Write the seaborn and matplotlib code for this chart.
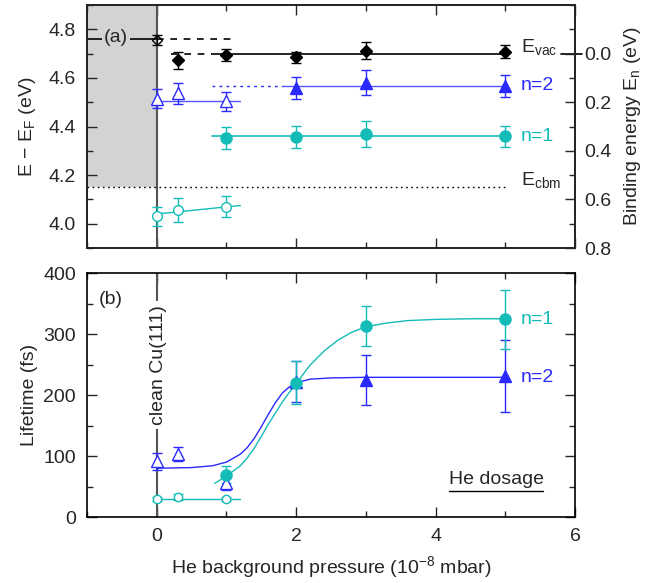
import matplotlib
matplotlib.use("Agg")
import matplotlib.pyplot as plt
import seaborn as sns
import pandas as pd
from matplotlib.ticker import MultipleLocator

sns.set_theme(style="ticks")
plt.rcParams['font.family'] = ['Liberation Sans', 'DejaVu Sans']
plt.rcParams['mathtext.fontset'] = 'custom'
plt.rcParams['mathtext.rm'] = 'Liberation Sans'

BLUE = '#2a2aff'
CYAN = '#14bcb8'
GRAY = '#d3d3d3'

# ---- panel (a): energies (eV) ----
vac_clean_x = [0]
vac_clean_y = [4.755]
vac_clean_err = [0.02]
vac_x = [0.3, 1, 2, 3, 5]
vac_y = [4.673, 4.694, 4.685, 4.711, 4.708]
vac_err = [0.035, 0.025, 0.022, 0.035, 0.028]

n2_clean_x = [0, 0.3, 1]
n2_clean_y = [4.515, 4.536, 4.503]
n2_clean_err = [0.04, 0.045, 0.04]
n2_x = [2, 3, 5]
n2_y = [4.56, 4.58, 4.565]
n2_err = [0.045, 0.052, 0.045]

n1_clean_x = [0, 0.3, 1]
n1_clean_y = [4.03, 4.056, 4.07]
n1_clean_err = [0.04, 0.048, 0.042]
n1_x = [1, 2, 3, 5]
n1_y = [4.352, 4.357, 4.37, 4.36]
n1_err = [0.045, 0.045, 0.053, 0.043]

# reference levels
vac_level = 4.70
vac_clean_level = 4.76
n2_level = 4.567
n2_clean_level = 4.505
n1_level = 4.36
cbm_level = 4.15
n1_clean_fit_x = [0, 1.2]
n1_clean_fit_y = [4.04, 4.075]

# ---- panel (b): lifetimes (fs) ----
tau1_x = [1, 2, 3, 5]
tau1_y = [69, 220, 313, 324]
tau1_err = [14, 35, 33, 48]
tau2_x = [2, 3, 5]
tau2_y = [222, 225, 231]
tau2_err = [34, 41, 59]
tau1_clean_x = [0, 0.3, 1]
tau1_clean_y = [30, 33, 30]
tau1_clean_err = [3, 5, 3]
tau2_clean_x = [0, 0.3, 1]
tau2_clean_y = [91, 103, 55]
tau2_clean_err = [14, 12, 10]
tau1_clean_level = 30

# fitted curves
fit2_x = [0, 0.5, 0.8, 1.0, 1.2, 1.3, 1.4, 1.5, 1.6, 1.7, 1.8, 1.9, 2.0, 2.2, 2.5, 3.0, 4.0, 5.0]
fit2_y = [80, 81, 84, 90, 103, 114, 129, 148, 168, 187, 203, 213, 220, 226, 228, 229, 229, 229]
fit1_x = [0.83, 1.0, 1.2, 1.3, 1.4, 1.5, 1.6, 1.7, 1.8, 1.9, 2.0, 2.1, 2.2, 2.4, 2.6, 2.8, 3.0, 3.3, 3.6, 4.0, 4.5, 5.0]
fit1_y = [55, 67, 84, 97, 113, 132, 152, 170, 188, 204, 218, 234, 249, 272, 290, 303, 312, 318, 322, 324, 325, 325]

fig = plt.figure(figsize=(6.57, 5.83), dpi=100)
ax1 = fig.add_axes([0.1324, 0.5746, 0.7428, 0.4168])
ax2 = fig.add_axes([0.1324, 0.1132, 0.7428, 0.4185])

eb = dict(capsize=3.5, elinewidth=1, capthick=1, linestyle='none')

# ---------------- panel (a) ----------------
ax1.axvspan(-1, 0, ymin=(cbm_level - 3.9) / 1.0, ymax=1, color=GRAY, lw=0, zorder=0)
ax1.axvline(0, color='#555555', lw=1.5, zorder=1)

ax1.plot([-1, 0], [vac_clean_level] * 2, color='black', lw=1.2)
ax1.plot([0, 1.1], [vac_clean_level] * 2, color='black', lw=1.2, dashes=(4, 4))
ax1.plot([0.2, 0.8], [vac_level] * 2, color='black', lw=1.2, dashes=(4, 4))
ax1.plot([0.8, 5], [vac_level] * 2, color='black', lw=1.2)
ax1.plot([5.8, 6.1], [vac_level] * 2, color='black', lw=1.2, clip_on=False)
ax1.plot([0.8, 1.8], [n2_level] * 2, color=BLUE, lw=1, dashes=(2, 3))
ax1.plot([1.8, 5], [n2_level] * 2, color=BLUE, lw=1, alpha=0.8)
ax1.plot([0, 1.2], [n2_clean_level] * 2, color=BLUE, lw=1, alpha=0.8)
ax1.plot([0.8, 5], [n1_level] * 2, color=CYAN, lw=1.2)
ax1.plot([-1, 5], [cbm_level] * 2, color='black', lw=1, dashes=(1.2, 2.5))
sns.lineplot(x=n1_clean_fit_x, y=n1_clean_fit_y, ax=ax1, color=CYAN, lw=1, estimator=None)

ax1.errorbar(vac_clean_x, vac_clean_y, yerr=vac_clean_err, marker='D', ms=5,
             mfc='none', mec='black', color='black', **eb)
ax1.errorbar(vac_x, vac_y, yerr=vac_err, marker='D', ms=6, color='black', **eb)
ax1.errorbar(n2_clean_x, n2_clean_y, yerr=n2_clean_err, marker='^', ms=8,
             mfc='white', mec=BLUE, color=BLUE, **eb)
ax1.errorbar(n2_x, n2_y, yerr=n2_err, marker='^', ms=8, color=BLUE, **eb)
ax1.errorbar(n1_clean_x, n1_clean_y, yerr=n1_clean_err, marker='o', ms=7,
             mfc='white', mec=CYAN, color=CYAN, **eb)
ax1.errorbar(n1_x, n1_y, yerr=n1_err, marker='o', ms=8, color=CYAN, **eb)

ax1.text(-0.58, vac_clean_level + 0.005, '(a)', fontsize=14, ha='center', va='center',
         bbox=dict(facecolor=GRAY, edgecolor='none', pad=1.5))
ax1.text(5.22, 4.722, r'E$_{\rm vac}$', fontsize=14, va='center')
ax1.text(5.22, n2_level, 'n=2', fontsize=14, va='center', color=BLUE)
ax1.text(5.22, n1_level, 'n=1', fontsize=14, va='center', color=CYAN)
ax1.text(5.22, 4.178, r'E$_{\rm cbm}$', fontsize=14, va='center')

ax1.set_xlim(-1, 6)
ax1.set_ylim(3.9, 4.9)
ax1.yaxis.set_major_locator(MultipleLocator(0.2))
ax1.yaxis.set_minor_locator(MultipleLocator(0.1))
ax1.set_ylabel(r'E $-$ E$_{\rm F}$ (eV)', fontsize=14)
ax1.yaxis.set_label_coords(-0.10, 0.5)
ax1.tick_params(labelbottom=False)

ax1r = ax1.twinx()
ax1r.set_ylim(0.8, -0.2)
ax1r.set_yticks([0.0, 0.2, 0.4, 0.6, 0.8])
ax1r.set_yticklabels(['0.0', '0.2', '0.4', '0.6', '0.8'])
ax1r.yaxis.set_minor_locator(MultipleLocator(0.1))
ax1r.set_ylabel(r'Binding energy E$_{\rm n}$ (eV)', fontsize=14)
ax1r.yaxis.set_label_coords(1.097, 0.5)
ax1r.tick_params(which='both', direction='in', labelsize=14, pad=7)
ax1r.tick_params(which='major', length=7, width=1)
ax1r.tick_params(which='minor', length=4, width=1)

# ---------------- panel (b) ----------------
ax2.axvline(0, color='#555555', lw=1.5, zorder=1)
ax2.plot([0, 1.2], [tau1_clean_level] * 2, color=CYAN, lw=1)
sns.lineplot(x=fit2_x, y=fit2_y, ax=ax2, color=BLUE, lw=1, estimator=None, sort=False)
sns.lineplot(x=fit1_x, y=fit1_y, ax=ax2, color=CYAN, lw=1, estimator=None, sort=False)

ax2.errorbar(tau1_clean_x, tau1_clean_y, yerr=tau1_clean_err, marker='o', ms=6,
             mfc='white', mec=CYAN, color=CYAN, **eb)
ax2.errorbar(tau2_clean_x, tau2_clean_y, yerr=tau2_clean_err, marker='^', ms=8,
             mfc='white', mec=BLUE, color=BLUE, **eb)
ax2.errorbar(tau2_x, tau2_y, yerr=tau2_err, marker='^', ms=8, color=BLUE, **eb)
ax2.errorbar(tau1_x, tau1_y, yerr=tau1_err, marker='o', ms=8, color=CYAN, **eb)

ax2.text(-0.66, 356, '(b)', fontsize=14, ha='center', va='center')
ax2.text(0.02, 249, 'clean Cu(111)', fontsize=14, rotation=90, ha='center', va='center',
         zorder=5, bbox=dict(facecolor='white', edgecolor='none', pad=3))
ax2.text(5.22, 324, 'n=1', fontsize=14, va='center', color=CYAN)
ax2.text(5.22, 229, 'n=2', fontsize=14, va='center', color=BLUE)
ax2.text(4.87, 62, 'He dosage', fontsize=14, ha='center', va='center')
ax2.plot([4.19, 5.54], [43, 43], color='black', lw=1)

ax2.set_xlim(-1, 6)
ax2.set_ylim(0, 400)
ax2.yaxis.set_major_locator(MultipleLocator(100))
ax2.yaxis.set_minor_locator(MultipleLocator(50))
ax2.set_ylabel('Lifetime (fs)', fontsize=14)
ax2.yaxis.set_label_coords(-0.10, 0.5)
ax2.set_xlabel(r'He background pressure (10$^{-8}$ mbar)', fontsize=14)
ax2.xaxis.set_label_coords(0.5, -0.152)

for ax in (ax1, ax2):
    ax.xaxis.set_major_locator(MultipleLocator(2))
    ax.xaxis.set_minor_locator(MultipleLocator(1))
    ax.tick_params(which='both', direction='in', top=True, right=(ax is ax2),
                   labelsize=14, pad=8)
    ax.tick_params(which='major', length=7, width=1)
    ax.tick_params(which='minor', length=4, width=1)
    for s in ax.spines.values():
        s.set_color('black')
        s.set_linewidth(1.2)
    ax.grid(False)

fig.savefig('out.png', dpi=100)
